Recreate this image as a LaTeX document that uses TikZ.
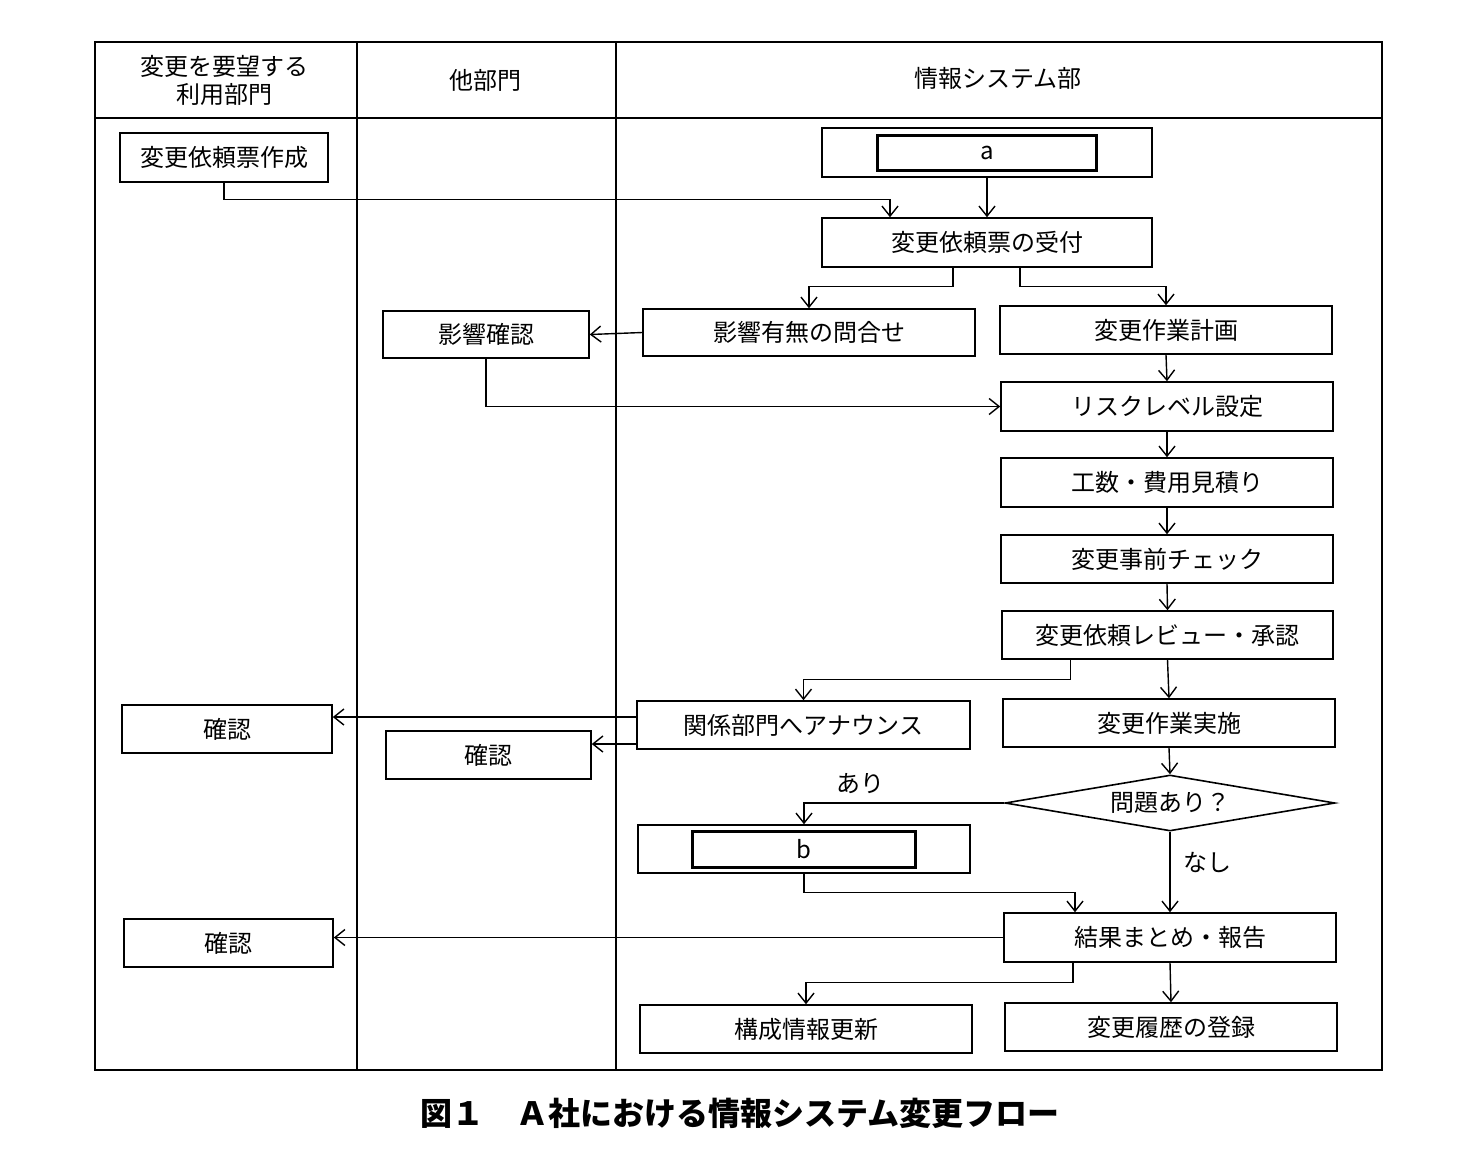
\documentclass[tikz,border=0pt]{standalone}
\usepackage{fontspec}
\setmainfont{Noto Sans CJK JP}
\usetikzlibrary{arrows.meta,calc,shapes.geometric}
\newcommand\mybox[6]{\node[box,minimum width={(#4-#2)*0.5pt},minimum height={(#5-#3)*0.5pt}] (#1) at ({(#2+#4)/2},{(#3+#5)/2}) {#6};}
\begin{document}
\begin{tikzpicture}[x=0.5pt,y=-0.5pt,
  box/.style={draw,line width=0.8pt,inner sep=0pt,font=\fontsize{12}{14}\selectfont},
  inner/.style={draw,line width=1.5pt,inner sep=0pt,font=\fontsize{12}{14}\selectfont},
  arr/.style={-{Straight Barb[length=5pt,width=8pt]},line width=0.7pt},
  ln/.style={line width=0.7pt},
  lbl/.style={font=\fontsize{12}{14}\selectfont}]
\useasboundingbox (0,0) rectangle (1478,1164);
% table
\draw[line width=1pt] (95,42) rectangle (1382,1070);
\draw[line width=1pt] (95,118) -- (1382,118);
\draw[line width=1pt] (357,42) -- (357,1070);
\draw[line width=1pt] (616,42) -- (616,1070);
\node[lbl,align=center] (h1) at (224,80) {変更を要望する\\利用部門};
\node[lbl] (h2) at (485,80) {他部門};
\node[lbl] (h3) at (998,78) {情報システム部};
% boxes
\mybox{req}{120}{133}{328}{182}{変更依頼票作成}
\mybox{a}{822}{128}{1152}{177}{}
\node[inner,minimum width={219*0.5pt},minimum height={35*0.5pt}] (ai) at (a) {a};
\mybox{recv}{822}{218}{1152}{267}{変更依頼票の受付}
\mybox{eik}{383}{311}{589}{358}{影響確認}
\mybox{inq}{643}{309}{975}{356}{影響有無の問合せ}
\mybox{plan}{1000}{306}{1332}{354}{変更作業計画}
\mybox{risk}{1001}{382}{1333}{431}{リスクレベル設定}
\mybox{cost}{1001}{458}{1333}{507}{工数・費用見積り}
\mybox{pre}{1001}{535}{1333}{583}{変更事前チェック}
\mybox{rev}{1002}{611}{1333}{659}{変更依頼レビュー・承認}
\mybox{ck1}{122}{705}{332}{753}{確認}
\mybox{ann}{637}{701}{970}{749}{関係部門へアナウンス}
\mybox{ck2}{386}{731}{591}{779}{確認}
\mybox{exe}{1003}{699}{1335}{747}{変更作業実施}
\node[draw,line width=0.8pt,diamond,aspect=6,minimum width={330*0.5pt},minimum height={56*0.5pt},inner sep=0pt,font=\fontsize{12}{14}\selectfont] (dia) at (1170,803) {問題あり？};
\mybox{b}{638}{825}{970}{873}{}
\node[inner,minimum width={223*0.5pt},minimum height={36*0.5pt}] (bi) at (b) {b};
\mybox{ck3}{124}{919}{333}{967}{確認}
\mybox{res}{1004}{913}{1336}{962}{結果まとめ・報告}
\mybox{cfg}{640}{1005}{972}{1053}{構成情報更新}
\mybox{hist}{1005}{1003}{1337}{1051}{変更履歴の登録}
% connectors
\draw[arr] (req.south) |- ($(recv.north)+(-97,-18)$) -- ($(recv.north)+(-97,0)$);
\draw[arr] (a.south) -- (recv.north);
\draw[arr] ($(recv.south)+(-34,0)$) |- ($(inq.north)+(0,-22)$) -- (inq.north);
\draw[arr] ($(recv.south)+(33,0)$) |- ($(plan.north)+(0,-19)$) -- (plan.north);
\draw[arr] (inq.west) -- (eik.east);
\draw[arr] (eik.south) |- (risk.west);
\draw[arr] (plan.south) -- (risk.north);
\draw[arr] (risk.south) -- (cost.north);
\draw[arr] (cost.south) -- (pre.north);
\draw[arr] (pre.south) -- (rev.north);
\draw[arr] ($(rev.south)+(-97,0)$) |- ($(ann.north)+(0,-21)$) -- (ann.north);
\draw[arr] (rev.south) -- (exe.north);
\draw[arr] ($(ann.west)+(0,-8)$) -- (ck1.east |- {$(ann.west)+(0,-8)$});
\draw[arr] ($(ann.west)+(0,19)$) -- (ck2.east |- {$(ann.west)+(0,19)$});
\draw[arr] (exe.south) -- (dia.north);
\draw[arr] (dia.west) -| (b.north);
\node[lbl] (ari) at (860,784) {あり};
\draw[arr] (dia.south) -- (res.north);
\node[lbl] (nashi) at (1207,862) {なし};
\draw[arr] (b.south) |- ($(res.north)+(-95,-20)$) -- ($(res.north)+(-95,0)$);
\draw[arr] (res.west) -- (ck3.east |- res.west);
\draw[arr] ($(res.south)+(-97,0)$) |- ($(cfg.north)+(0,-22)$) -- (cfg.north);
\draw[arr] (res.south) -- (hist.north);
\node[font=\fontsize{16}{18}\selectfont\bfseries] (cap) at (740,1113) {図１\quad Ａ社における情報システム変更フロー};
\end{tikzpicture}
\end{document}
